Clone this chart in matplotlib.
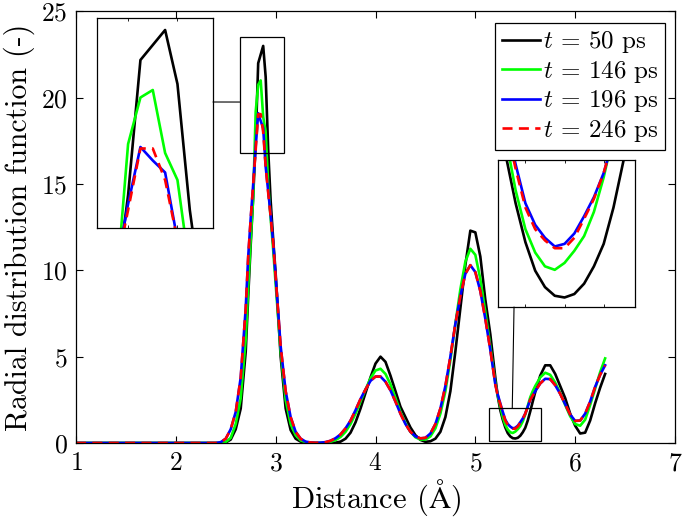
import matplotlib
matplotlib.use("Agg")
import matplotlib.pyplot as plt
from matplotlib.patches import Rectangle, ConnectionPatch

plt.rcParams['font.family'] = ['cmr10', 'DejaVu Serif']
plt.rcParams['mathtext.fontset'] = 'cm'
plt.rcParams['axes.formatter.use_mathtext'] = True

# ---------------- data ----------------
distance = [1.0, 1.1, 1.2, 1.3, 1.4, 1.5, 1.6, 1.7, 1.8, 1.9, 2.0, 2.1, 2.2, 2.3, 2.4,
            2.45, 2.5, 2.55, 2.6, 2.65, 2.7,
            2.725, 2.75, 2.775, 2.8, 2.825, 2.85, 2.875, 2.9, 2.925, 2.95, 2.975, 3.0,
            3.05, 3.1, 3.15, 3.2, 3.25, 3.3, 3.35, 3.4, 3.45, 3.5, 3.55, 3.6, 3.65, 3.7,
            3.75, 3.8, 3.85, 3.9, 3.95, 4.0, 4.05, 4.1, 4.15, 4.2, 4.25, 4.3, 4.35, 4.4,
            4.45, 4.5, 4.55, 4.6, 4.65, 4.7, 4.75, 4.8, 4.85, 4.9, 4.95, 5.0, 5.05, 5.1,
            5.15, 5.2,
            5.225, 5.25, 5.275, 5.3, 5.325, 5.35, 5.375, 5.4, 5.425, 5.45, 5.475, 5.5,
            5.525, 5.55, 5.575, 5.6,
            5.65, 5.7, 5.75, 5.8, 5.85, 5.9, 5.95, 6.0, 6.05, 6.1, 6.15, 6.2, 6.25, 6.3]

zeros15 = [0.0] * 15

rdf_50 = zeros15 + [
    0.0, 0.03, 0.2, 0.8, 2.0, 5.3,
    8.5, 11.5, 14.3, 17.5, 22.0, 22.5, 23.0, 21.2, 17.0, 14.0, 11.8, 9.8,
    5.0, 2.0, 0.75, 0.25, 0.08, 0.02, 0.0, 0.0, 0.0, 0.0, 0.0, 0.02, 0.08, 0.25,
    0.6, 1.2, 2.0, 2.9, 3.8, 4.6, 5.0, 4.7, 3.9, 3.0, 2.1, 1.5, 0.9, 0.45,
    0.18, 0.07, 0.1, 0.25, 0.65, 1.5, 3.0, 5.3, 7.8, 10.3, 12.3, 12.2, 10.8, 8.3,
    6.3, 3.8,
    2.7, 1.9, 1.35, 0.9, 0.57, 0.38, 0.28, 0.26, 0.3, 0.42, 0.62, 0.88,
    1.3, 1.83, 2.4, 2.95,
    3.9, 4.5, 4.5, 4.0, 3.3, 2.6, 1.7, 1.0, 0.55, 0.6, 1.3, 2.3, 3.2, 4.0]

rdf_146 = zeros15 + [
    0.0, 0.05, 0.3, 1.1, 2.6, 6.0,
    9.0, 11.8, 14.2, 19.2, 20.75, 21.0, 18.9, 18.0, 15.0, 13.0, 11.2, 9.2,
    5.3, 2.5, 1.1, 0.45, 0.15, 0.05, 0.02, 0.0, 0.0, 0.02, 0.07, 0.17, 0.35, 0.65,
    1.1, 1.7, 2.4, 3.1, 3.75, 4.2, 4.3, 4.0, 3.4, 2.6, 1.8, 1.15, 0.65, 0.33,
    0.2, 0.2, 0.38, 0.85, 1.7, 3.0, 4.8, 6.9, 8.9, 10.5, 11.25, 10.9, 9.5, 7.6,
    5.6, 3.5,
    2.75, 2.1, 1.5, 1.05, 0.78, 0.62, 0.58, 0.66, 0.8, 0.97, 1.25, 1.65,
    2.15, 2.65, 3.0, 3.3,
    3.8, 4.07, 3.95, 3.5, 2.9, 2.2, 1.55, 1.1, 1.0, 1.35, 2.2, 3.15, 4.1, 4.9]

rdf_196 = zeros15 + [
    0.05, 0.25, 0.8, 1.8, 3.8, 7.8,
    10.8, 13.0, 15.0, 17.2, 19.1, 18.65, 18.25, 16.0, 14.6, 13.2, 11.6, 9.6,
    5.6, 3.0, 1.5, 0.65, 0.25, 0.08, 0.03, 0.01, 0.02, 0.05, 0.13, 0.28, 0.5, 0.85,
    1.3, 1.9, 2.55, 3.1, 3.6, 3.85, 3.85, 3.55, 3.05, 2.4, 1.7, 1.1, 0.65, 0.38,
    0.27, 0.3, 0.55, 1.1, 2.0, 3.3, 5.0, 6.9, 8.5, 9.8, 10.3, 9.9, 8.8, 7.2,
    5.4, 3.4,
    2.8, 2.3, 1.8, 1.35, 1.1, 0.95, 0.85, 0.88, 1.0, 1.2, 1.42, 1.7,
    2.1, 2.5, 2.75, 3.0,
    3.45, 3.72, 3.7, 3.35, 2.85, 2.25, 1.65, 1.28, 1.3, 1.7, 2.4, 3.25, 3.95, 4.5]

rdf_246 = zeros15 + [
    0.05, 0.25, 0.8, 1.8, 3.8, 7.8,
    10.8, 13.0, 15.0, 17.0, 19.05, 19.05, 18.0, 16.0, 14.5, 13.1, 11.6, 9.6,
    5.6, 3.0, 1.5, 0.65, 0.25, 0.08, 0.03, 0.01, 0.02, 0.05, 0.13, 0.28, 0.5, 0.85,
    1.3, 1.9, 2.55, 3.1, 3.6, 3.85, 3.85, 3.55, 3.05, 2.4, 1.7, 1.1, 0.65, 0.38,
    0.27, 0.3, 0.55, 1.1, 2.0, 3.3, 5.0, 6.9, 8.5, 9.8, 10.3, 9.9, 8.8, 7.2,
    5.4, 3.4,
    2.7, 2.25, 1.75, 1.3, 1.05, 0.92, 0.83, 0.83, 0.95, 1.17, 1.4, 1.7,
    2.1, 2.5, 2.75, 3.0,
    3.45, 3.72, 3.7, 3.35, 2.85, 2.25, 1.65, 1.28, 1.3, 1.7, 2.4, 3.25, 3.95, 4.5]

labels = [r'$t$ = 50 ps', r'$t$ = 146 ps', r'$t$ = 196 ps', r'$t$ = 246 ps']
x_ticks = [1, 2, 3, 4, 5, 6, 7]
y_ticks = [0, 5, 10, 15, 20, 25]

series = [rdf_50, rdf_146, rdf_196, rdf_246]
colors = ['#000000', '#00ff00', '#0000ff', '#ff0000']
styles = ['-', '-', '-', '--']
LW = 1.9

fig = plt.figure(figsize=(6.85, 5.22), dpi=100)
ax = fig.add_axes([76 / 685, 1 - 443 / 522, (675 - 76) / 685, (443 - 11.4) / 522])


def draw(a):
    lines = []
    for ys, c, s, lab in zip(series, colors, styles, labels):
        ln, = a.plot(distance, ys, color=c, lw=LW, ls=s, label=lab)
        if s == '--':
            ln.set_dashes((3.8, 2.4))
        lines.append(ln)
    return lines


lines = draw(ax)
ax.set_xlim(1, 7)
ax.set_ylim(0, 25)
ax.set_xticks(x_ticks)
ax.set_yticks(y_ticks)
ax.tick_params(direction='in', top=True, right=True, length=5, width=0.8,
               labelsize=18.5, pad=6)
for sp in ax.spines.values():
    sp.set_linewidth(0.9)
ax.set_xlabel('Distance (' + r'$\mathrm{\AA}$' + ')', fontsize=22, labelpad=2)
ax.set_ylabel('Radial distribution function (-)', fontsize=21.5, labelpad=4)

leg = ax.legend(handles=lines, loc='upper right',
                bbox_to_anchor=(665 / 685, 1 - 23 / 522),
                bbox_transform=fig.transFigure, fontsize=18, frameon=True,
                fancybox=False, edgecolor='black', framealpha=1,
                handlelength=1.55, handletextpad=0.1, borderpad=0.25,
                labelspacing=0.14, borderaxespad=0)
leg.get_frame().set_linewidth(0.9)

# zoom boxes on main axes
ax.add_patch(Rectangle((2.64, 16.8), 0.44, 6.7, fill=False, ec='black', lw=0.9, zorder=5))
ax.add_patch(Rectangle((5.14, 0.1), 0.52, 1.93, fill=False, ec='black', lw=0.9, zorder=5))

# inset 1
ins1 = fig.add_axes([97 / 685, 1 - 228 / 522, 116 / 685, 210 / 522])
draw(ins1)
ins1.set_xlim(2.737, 2.972)
ins1.set_ylim(16.4, 23.4)
ins1.set_xticks([2.8, 2.9])
ins1.set_yticks([])
ins1.tick_params(direction='in', length=2, width=0.6, labelbottom=False, top=True)

# inset 2
ins2 = fig.add_axes([498 / 685, 1 - 307 / 522, 137 / 685, 147 / 522])
draw(ins2)
ins2.set_xlim(5.23, 5.58)
ins2.set_ylim(0.15, 1.85)
ins2.set_xticks([5.3, 5.4, 5.5])
ins2.set_yticks([])
ins2.tick_params(direction='in', length=2, width=0.6, labelbottom=False, top=True)
for a in (ins1, ins2):
    for sp in a.spines.values():
        sp.set_linewidth(0.9)

# connectors
c1 = ConnectionPatch(xyA=(1, 0.6), coordsA=ins1.transAxes, xyB=(2.64, 19.75),
                     coordsB=ax.transData, color='black', lw=0.8)
fig.add_artist(c1)
c2 = ConnectionPatch(xyA=(0.117, 0), coordsA=ins2.transAxes, xyB=(5.37, 2.03),
                     coordsB=ax.transData, color='black', lw=0.8)
fig.add_artist(c2)

fig.savefig('out.png', dpi=100)
